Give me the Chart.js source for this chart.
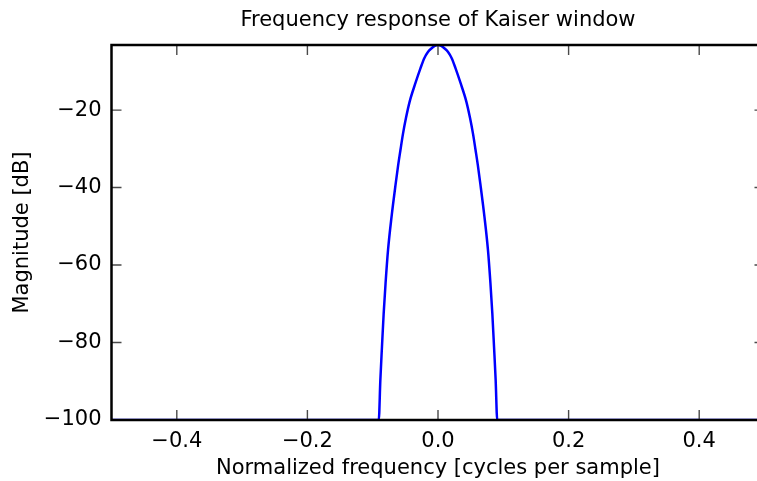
<!DOCTYPE html>
<html>
<head>
<meta charset="utf-8">
<script src="https://cdn.jsdelivr.net/npm/chart.js@4/dist/chart.umd.min.js"></script>
<style>
  html, body { margin: 0; padding: 0; background: #fff; overflow: hidden; }
  #wrap { position: absolute; left: 0; top: 0; width: 770px; height: 481px; }
</style>
</head>
<body>
<div id="wrap"><canvas id="c" width="770" height="481"></canvas></div>
<script>
// Normalized frequency (cycles per sample)
const freq = [-0.5, -0.0907, -0.0883, -0.0858, -0.0832, -0.0803, -0.0765, -0.0711, -0.0648,
  -0.061, -0.0575, -0.0537, -0.049, -0.0434, -0.0345, -0.0269, -0.021, -0.0154, -0.0102, -0.005,
  0,
  0.005, 0.0102, 0.0154, 0.021, 0.0269, 0.0345, 0.0434, 0.049, 0.0537, 0.0575, 0.061,
  0.0648, 0.0711, 0.0765, 0.0803, 0.0832, 0.0858, 0.0883, 0.0907, 0.5];
// Magnitude [dB]
const magnitudeDb = [-100, -100, -89.7, -81.1, -72.5, -64.7, -56.1, -47.5, -39.0,
  -34.2, -30.3, -26.2, -22.0, -17.8, -13.0, -9.24, -6.6, -5.0, -4.1, -3.45,
  -3.2,
  -3.45, -4.1, -5.0, -6.6, -9.24, -13.0, -17.8, -22.0, -26.2, -30.3, -34.2,
  -39.0, -47.5, -56.1, -64.7, -72.5, -81.1, -89.7, -100, -100];
const xTicks = [-0.4, -0.2, 0.0, 0.2, 0.4];
const yTicks = [-100, -80, -60, -40, -20];

const fmt = (v, d) => { const s = Math.abs(v).toFixed(d); return (v < 0 ? '\u2212' : '') + s; };

Chart.defaults.font.family = '"DejaVu Sans", sans-serif';
Chart.defaults.font.size = 21;
Chart.defaults.color = '#000';

const frame = {
  id: 'frame',
  afterDraw(chart) {
    const { ctx, chartArea: a, scales: { x, y } } = chart;
    ctx.save();
    ctx.strokeStyle = '#4a4a4a';
    ctx.lineWidth = 1.4;
    const L = 10;
    ctx.beginPath();
    xTicks.forEach(v => {
      const px = x.getPixelForValue(v);
      ctx.moveTo(px, a.bottom); ctx.lineTo(px, a.bottom - L);
      ctx.moveTo(px, a.top); ctx.lineTo(px, a.top + L);
    });
    yTicks.forEach(v => {
      const py = y.getPixelForValue(v);
      ctx.moveTo(a.left, py); ctx.lineTo(a.left + L, py);
      ctx.moveTo(a.right, py); ctx.lineTo(a.right - L, py);
    });
    ctx.stroke();
    ctx.strokeStyle = '#000';
    ctx.lineWidth = 2.5;
    ctx.strokeRect(a.left, a.top, a.right - a.left, a.bottom - a.top);
    ctx.restore();
  }
};

new Chart(document.getElementById('c'), {
  type: 'line',
  data: {
    datasets: [{
      data: freq.map((f, i) => ({ x: f, y: magnitudeDb[i] })),
      borderColor: '#0000ff',
      borderWidth: 2.5,
      pointRadius: 0,
      fill: false,
      cubicInterpolationMode: 'monotone'
    }]
  },
  options: {
    responsive: false,
    animation: false,
    layout: { padding: { left: 0, right: 5.5, top: 0, bottom: 0 } },
    plugins: {
      legend: { display: false },
      tooltip: { enabled: false },
      title: {
        display: true,
        text: 'Frequency response of Kaiser window',
        fullSize: false,
        font: { size: 21, weight: 'normal', lineHeight: 1.2 },
        color: '#000',
        padding: { top: 8, bottom: 11.8 }
      }
    },
    scales: {
      x: {
        type: 'linear',
        min: -0.5, max: 0.5,
        grid: { display: false, drawTicks: false },
        border: { display: false },
        afterBuildTicks: s => { s.ticks = xTicks.map(v => ({ value: v })); },
        afterFit: s => { s.height = 61; },
        ticks: { padding: 9, maxRotation: 0, autoSkip: false, callback: v => fmt(v, 1) },
        title: { display: true, text: 'Normalized frequency [cycles per sample]', padding: { top: 0, bottom: 0 }, font: { size: 21 } }
      },
      y: {
        type: 'linear',
        min: -100, max: -3.2,
        grid: { display: false, drawTicks: false },
        border: { display: false },
        afterBuildTicks: s => { s.ticks = yTicks.map(v => ({ value: v })); },
        afterFit: s => { s.width = 111.5; },
        ticks: { padding: 10, autoSkip: false, callback: v => fmt(v, 0) },
        title: { display: true, text: 'Magnitude [dB]', padding: { top: 10, bottom: 0 }, font: { size: 21 } }
      }
    }
  },
  plugins: [frame]
});
</script>
</body>
</html>
